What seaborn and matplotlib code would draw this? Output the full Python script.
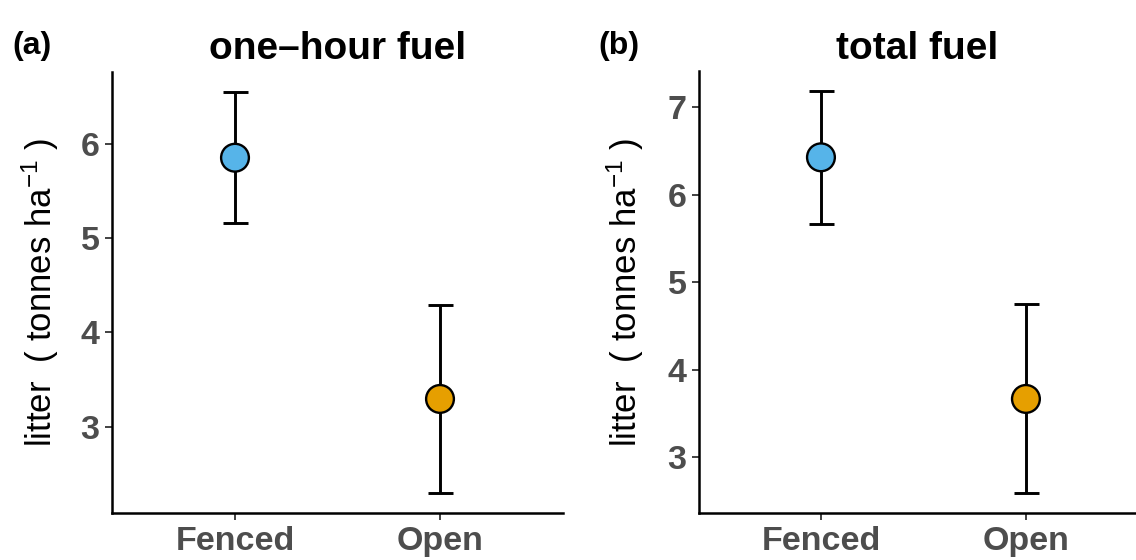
import matplotlib
matplotlib.use("Agg")
import matplotlib.pyplot as plt
from matplotlib.ticker import MultipleLocator
import seaborn as sns
import pandas as pd

# ---- data ----
treatments = ["Fenced", "Open"]
colors = ["#56B4E9", "#E69F00"]

onehour_mean = [5.855, 3.294]
onehour_lo = [5.159, 2.293]
onehour_hi = [6.555, 4.287]

total_mean = [6.426, 3.666]
total_lo = [5.669, 2.589]
total_hi = [7.178, 4.751]

titles = ["one\u2013hour fuel", "total fuel"]
panel_tags = ["(a)", "(b)"]
ylabel = r"litter  ( tonnes ha$^{-1}$ )"

sns.set_theme(style="white")
plt.rcParams["font.family"] = ["Liberation Sans", "DejaVu Sans"]
plt.rcParams["mathtext.fontset"] = "custom"
plt.rcParams["mathtext.rm"] = "Liberation Sans"
plt.rcParams["mathtext.it"] = "Liberation Sans"
plt.rcParams["mathtext.default"] = "regular"

W, H = 1136, 560
fig = plt.figure(figsize=(W / 100, H / 100), dpi=100)

def px_axes(l, t, r, b):
    return fig.add_axes([l / W, 1 - b / H, (r - l) / W, (b - t) / H])

panels = [
    dict(means=onehour_mean, lo=onehour_lo, hi=onehour_hi,
         box=(112, 71.7, 563, 513.3), xlim=(-0.6, 1.6), ylab_x=40, tag_x=12),
    dict(means=total_mean, lo=total_lo, hi=total_hi,
         box=(699, 71.4, 1136, 513.3), xlim=(-0.595, 1.537), ylab_x=625, tag_x=598),
]

for i, p in enumerate(panels):
    ax = px_axes(*p["box"])
    df = pd.DataFrame({"treatment": treatments, "mean": p["means"],
                       "lo": p["lo"], "hi": p["hi"]})
    yerr = [df["mean"] - df["lo"], df["hi"] - df["mean"]]
    ax.errorbar(df["treatment"], df["mean"], yerr=yerr, fmt="none",
                ecolor="black", elinewidth=2.1, capsize=9, capthick=2.1, zorder=2)
    sns.scatterplot(data=df, x="treatment", y="mean", hue="treatment",
                    palette=colors, s=400, edgecolor="black", linewidth=1.7,
                    legend=False, zorder=3, ax=ax)
    rng = max(p["hi"]) - min(p["lo"])
    ax.set_ylim(min(p["lo"]) - 0.05 * rng, max(p["hi"]) + 0.05 * rng)
    ax.set_xlim(*p["xlim"])
    ax.yaxis.set_major_locator(MultipleLocator(1))
    ax.set_xlabel("")
    ax.set_ylabel("")
    for s in ["top", "right"]:
        ax.spines[s].set_visible(False)
    for s in ["left", "bottom"]:
        ax.spines[s].set_color("black")
        ax.spines[s].set_linewidth(1.8)
    ax.tick_params(axis="both", which="major", length=5, width=1.3,
                   color="#333333", labelcolor="#4D4D4D", labelsize=24.5,
                   left=True, bottom=True, pad=4)
    for lab in ax.get_xticklabels() + ax.get_yticklabels():
        lab.set_fontweight("bold")
    ax.set_facecolor("white")
    l, t, r, b = p["box"]
    fig.text(((l + r) / 2) / W, 1 - 59 / H, titles[i], ha="center",
             va="baseline", fontsize=28, fontweight="bold", color="black")
    fig.text(p["tag_x"] / W, 1 - 54 / H, panel_tags[i], ha="left",
             va="baseline", fontsize=23, fontweight="bold", color="black")
    fig.text(p["ylab_x"] / W, 1 - ((t + b) / 2 + 0) / H, ylabel, rotation=90,
             ha="center", va="center", fontsize=25, color="black")

fig.savefig("out.png", dpi=100, facecolor="white")
